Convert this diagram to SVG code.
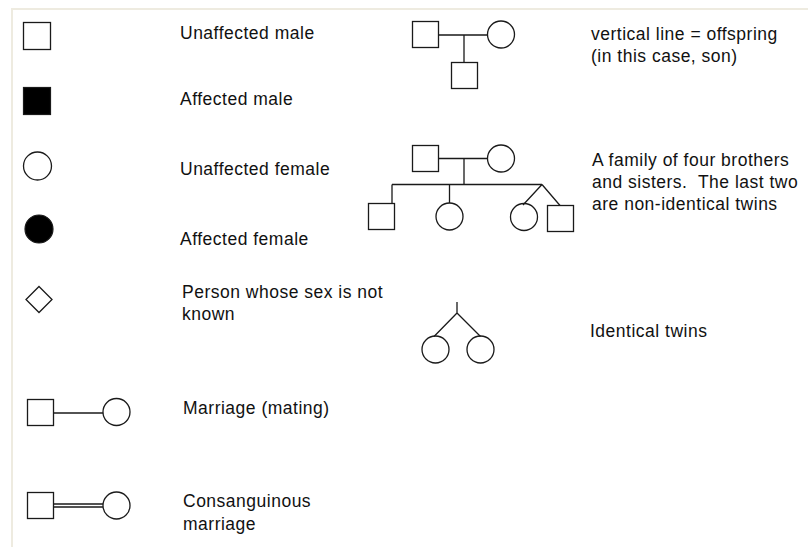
<svg xmlns="http://www.w3.org/2000/svg" width="808" height="547" viewBox="0 0 808 547">
<style>
.s{fill:#fff;stroke:#1a1a1a;stroke-width:1.3}
.f{fill:#000;stroke:#1a1a1a;stroke-width:1.2}
.l{fill:none;stroke:#1a1a1a;stroke-width:1.3}
text{font-family:"Liberation Sans",Arial,sans-serif;font-size:17.5px;fill:#111;letter-spacing:0.5px}
</style>
<rect width="808" height="547" fill="#fff"/>
<path d="M12 547V9H808" fill="none" stroke="#EEEBE0" stroke-width="2"/>
<g id="unaffected-male"><rect class="s" x="23.5" y="22.5" width="27" height="27"/><text x="180" y="39">Unaffected male</text></g>
<g id="affected-male"><rect class="f" x="23.5" y="87.5" width="27" height="27"/><text x="180" y="105">Affected male</text></g>
<g id="unaffected-female"><circle class="s" cx="37.5" cy="166" r="14"/><text x="180" y="175">Unaffected female</text></g>
<g id="affected-female"><circle class="f" cx="39" cy="229" r="14"/><text x="180" y="245">Affected female</text></g>
<g id="unknown-sex"><path class="s" d="M39 286.5L52 299.5L39 312.5L26 299.5Z"/><text x="182" y="298">Person whose sex is not</text><text x="182" y="320">known</text></g>
<g id="marriage"><rect class="s" x="27.5" y="399.5" width="26" height="26"/><circle class="s" cx="116.5" cy="412" r="13.5"/><text x="183" y="414">Marriage (mating)</text></g>
<g id="consanguinous"><rect class="s" x="27.5" y="492.5" width="26" height="26"/><circle class="s" cx="116.5" cy="505.5" r="13.5"/><text x="183" y="507">Consanguinous</text><text x="183" y="530">marriage</text></g>
<g id="offspring-example"><rect class="s" x="412.5" y="21.5" width="26" height="26"/><circle class="s" cx="501" cy="34.5" r="13.5"/><rect class="s" x="451.5" y="62.5" width="26" height="26"/><text x="591" y="40">vertical line = offspring</text><text x="591" y="62">(in this case, son)</text></g>
<g id="family-example"><rect class="s" x="412.5" y="145.5" width="26" height="26"/><circle class="s" cx="501" cy="158.5" r="13.5"/><rect class="s" x="368.5" y="203.5" width="26" height="26"/><circle class="s" cx="449.5" cy="216.5" r="13.5"/><circle class="s" cx="524" cy="217" r="13.5"/><rect class="s" x="547.5" y="205.5" width="26" height="26"/><text x="592" y="166">A family of four brothers</text><text x="592" y="188">and sisters.&#160; The last two</text><text x="592" y="210">are non-identical twins</text></g>
<g id="identical-twins"><circle class="s" cx="435.5" cy="349.5" r="13.5"/><circle class="s" cx="480.5" cy="349.5" r="13.5"/><text x="590" y="337">Identical twins</text></g>
<g id="connectors">
<path class="l" d="M53.5 413H103"/>
<path class="l" d="M53.5 504H103M53.5 507H103"/>
<path class="l" d="M438.5 35H487.5M464 35V62.5"/>
<path class="l" d="M438.5 158.5H487.5M464 158.5V184.5M392 184.5H542M392 184.5V203.5M449.5 184.5V203M542 184.5L523 205M542 184.5L560 205.5"/>
<path class="l" d="M457 302V313M457 313L434 336.5M457 313L480.5 336.5"/>
</g>
</svg>
